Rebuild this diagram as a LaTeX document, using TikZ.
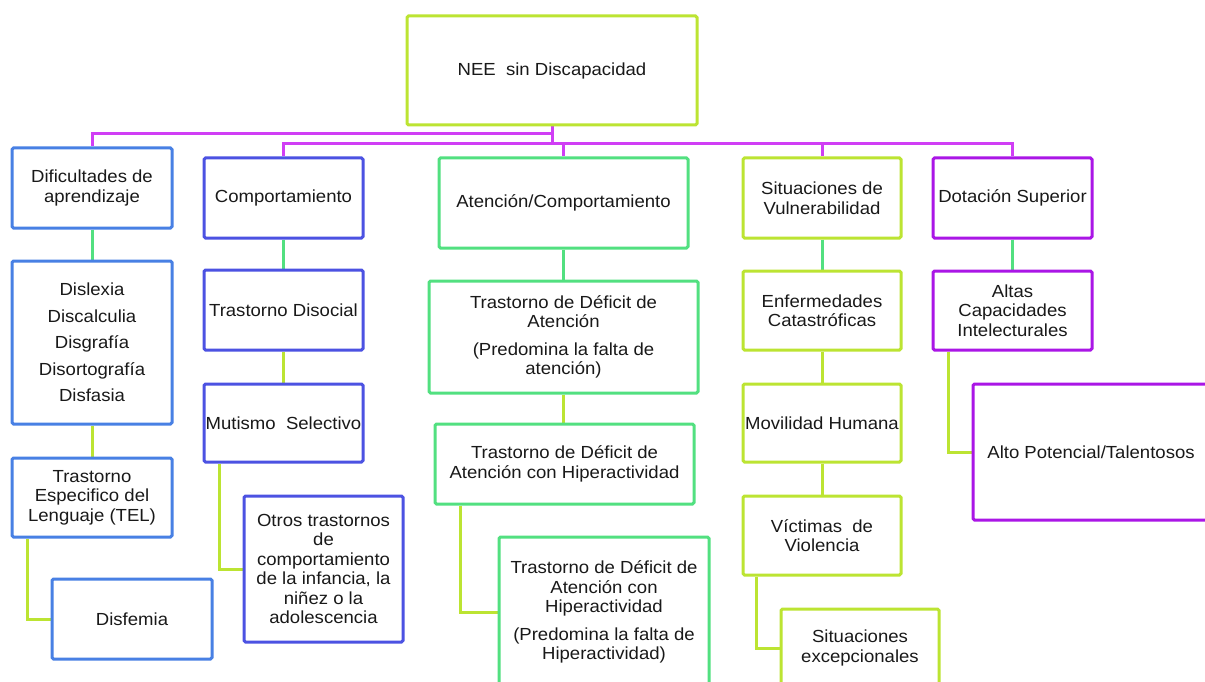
\documentclass[tikz,border=0pt]{standalone}
\usepackage{fontspec}
\setmainfont{Liberation Sans}[FakeStretch=1.06]
\usetikzlibrary{backgrounds}
\definecolor{cyg}{RGB}{188,228,50}
\definecolor{cmag}{RGB}{208,62,245}
\definecolor{cblue}{RGB}{72,128,228}
\definecolor{cindigo}{RGB}{76,82,226}
\definecolor{cgreen}{RGB}{82,224,128}
\definecolor{cpurple}{RGB}{170,22,230}
\definecolor{ctext}{RGB}{25,25,25}
\tikzset{
  box/.style={draw, line width=3pt, fill=white, rounded corners=1.5pt, inner sep=0pt,
    align=center, text=ctext, font=\fontsize{17.5}{19.5}\selectfont},
  bbox/.style={box, draw=cblue},
  ibox/.style={box, draw=cindigo},
  gbox/.style={box, draw=cgreen},
  ybox/.style={box, draw=cyg},
  pbox/.style={box, draw=cpurple},
  magline/.style={draw=cmag, line width=3pt},
  grline/.style={draw=cgreen, line width=3pt},
  ygline/.style={draw=cyg, line width=3pt}
}
\begin{document}
\begin{tikzpicture}[x=1pt,y=-1pt]
\useasboundingbox (0,0) rectangle (1205,682);
\clip (0,0) rectangle (1205,682);
% root
\node[ybox, minimum width=290pt, minimum height=109pt] (root) at (552,70.5) {NEE~ sin Discapacidad};
% level 1
\node[bbox, minimum width=160pt, minimum height=80pt] (dif) at (92,188) {Dificultades de\\aprendizaje};
\node[ibox, minimum width=159pt, minimum height=80pt] (comp) at (283.5,198) {Comportamiento};
\node[gbox, minimum width=249pt, minimum height=90pt] (aten) at (563.5,203) {Atención/Comportamiento};
\node[ybox, minimum width=158pt, minimum height=80pt] (sit) at (822,198) {Situaciones de\\Vulnerabilidad};
\node[pbox, minimum width=159pt, minimum height=80pt] (dot) at (1012.5,198) {Dotación Superior};
% column 1
\node[bbox, minimum width=160pt, minimum height=163pt] (dis) at (92,342.5) {Dislexia\\[7pt]Discalculia\\[7pt]Disgrafía\\[7pt]Disortografía\\[7pt]Disfasia};
\node[bbox, minimum width=160pt, minimum height=79pt] (tel) at (92,497.5) {Trastorno\\Especifico del\\Lenguaje (TEL)};
\node[bbox, minimum width=160pt, minimum height=80pt] (disf) at (132,619) {Disfemia};
% column 2
\node[ibox, minimum width=159pt, minimum height=80pt] (disoc) at (283.5,310) {Trastorno Disocial};
\node[ibox, minimum width=159pt, minimum height=78pt] (mut) at (283.5,423) {Mutismo~ Selectivo};
\node[ibox, minimum width=159pt, minimum height=146pt] (otros) at (323.5,569) {Otros trastornos\\de\\comportamiento\\de la infancia, la\\niñez o la\\adolescencia};
% column 3
\node[gbox, minimum width=269pt, minimum height=112pt] (tda) at (563.5,337) {Trastorno de Déficit de\\Atención\\[8pt](Predomina la falta de\\atención)};
\node[gbox, minimum width=259pt, minimum height=80pt] (tdah) at (564.5,464) {Trastorno de Déficit de\\Atención con Hiperactividad};
\node[gbox, minimum width=210pt, minimum height=150pt] (pred) at (604,612) {Trastorno de Déficit de\\Atención con\\Hiperactividad\\[8pt](Predomina la falta de\\Hiperactividad)};
% column 4
\node[ybox, minimum width=158pt, minimum height=79pt] (enf) at (822,310.5) {Enfermedades\\Catastróficas};
\node[ybox, minimum width=158pt, minimum height=78pt] (mov) at (822,423) {Movilidad Humana};
\node[ybox, minimum width=158pt, minimum height=79pt] (vict) at (822,535.5) {Víctimas~ de\\Violencia};
\node[ybox, minimum width=158pt, minimum height=78pt] (sexc) at (860,648) {Situaciones\\excepcionales};
% column 5
\node[pbox, minimum width=159pt, minimum height=79pt] (altas) at (1012.5,310.5) {Altas\\Capacidades\\Intelecturales};
\node[pbox, minimum width=236pt, minimum height=136pt] (alto) at (1091,452) {Alto Potencial/Talentosos};
\begin{scope}[on background layer]
% root connectors
\draw[magline] (root.south) -- ++(0,7) -| (dif.north);
\draw[magline] (root.south) -- ++(0,17) -| (comp.north);
\draw[magline] (root.south) -- ++(0,17) -| (aten.north);
\draw[magline] (root.south) -- ++(0,17) -| (sit.north);
\draw[magline] (root.south) -- ++(0,17) -| (dot.north);
% level1 -> level2
\draw[grline] (dif.south) -- (dis.north);
\draw[grline] (comp.south) -- (disoc.north);
\draw[grline] (aten.south) -- (tda.north);
\draw[grline] (sit.south) -- (enf.north);
\draw[grline] (dot.south) -- (altas.north);
% deeper
\draw[ygline] (dis.south) -- (tel.north);
\draw[ygline] (disoc.south) -- (mut.north);
\draw[ygline] (tda.south) -- (tda.south |- tdah.north);
\draw[ygline] (enf.south) -- (mov.north);
\draw[ygline] (mov.south) -- (vict.north);
\draw[ygline] ([xshift=17pt]tel.south west) |- (disf.west);
\draw[ygline] ([xshift=17pt]mut.south west) |- (otros.west);
\draw[ygline] ([xshift=27pt]tdah.south west) |- (pred.west);
\draw[ygline] ([xshift=15pt]vict.south west) |- (sexc.west);
\draw[ygline] ([xshift=17pt]altas.south west) |- (alto.west);
\end{scope}
\end{tikzpicture}
\end{document}
